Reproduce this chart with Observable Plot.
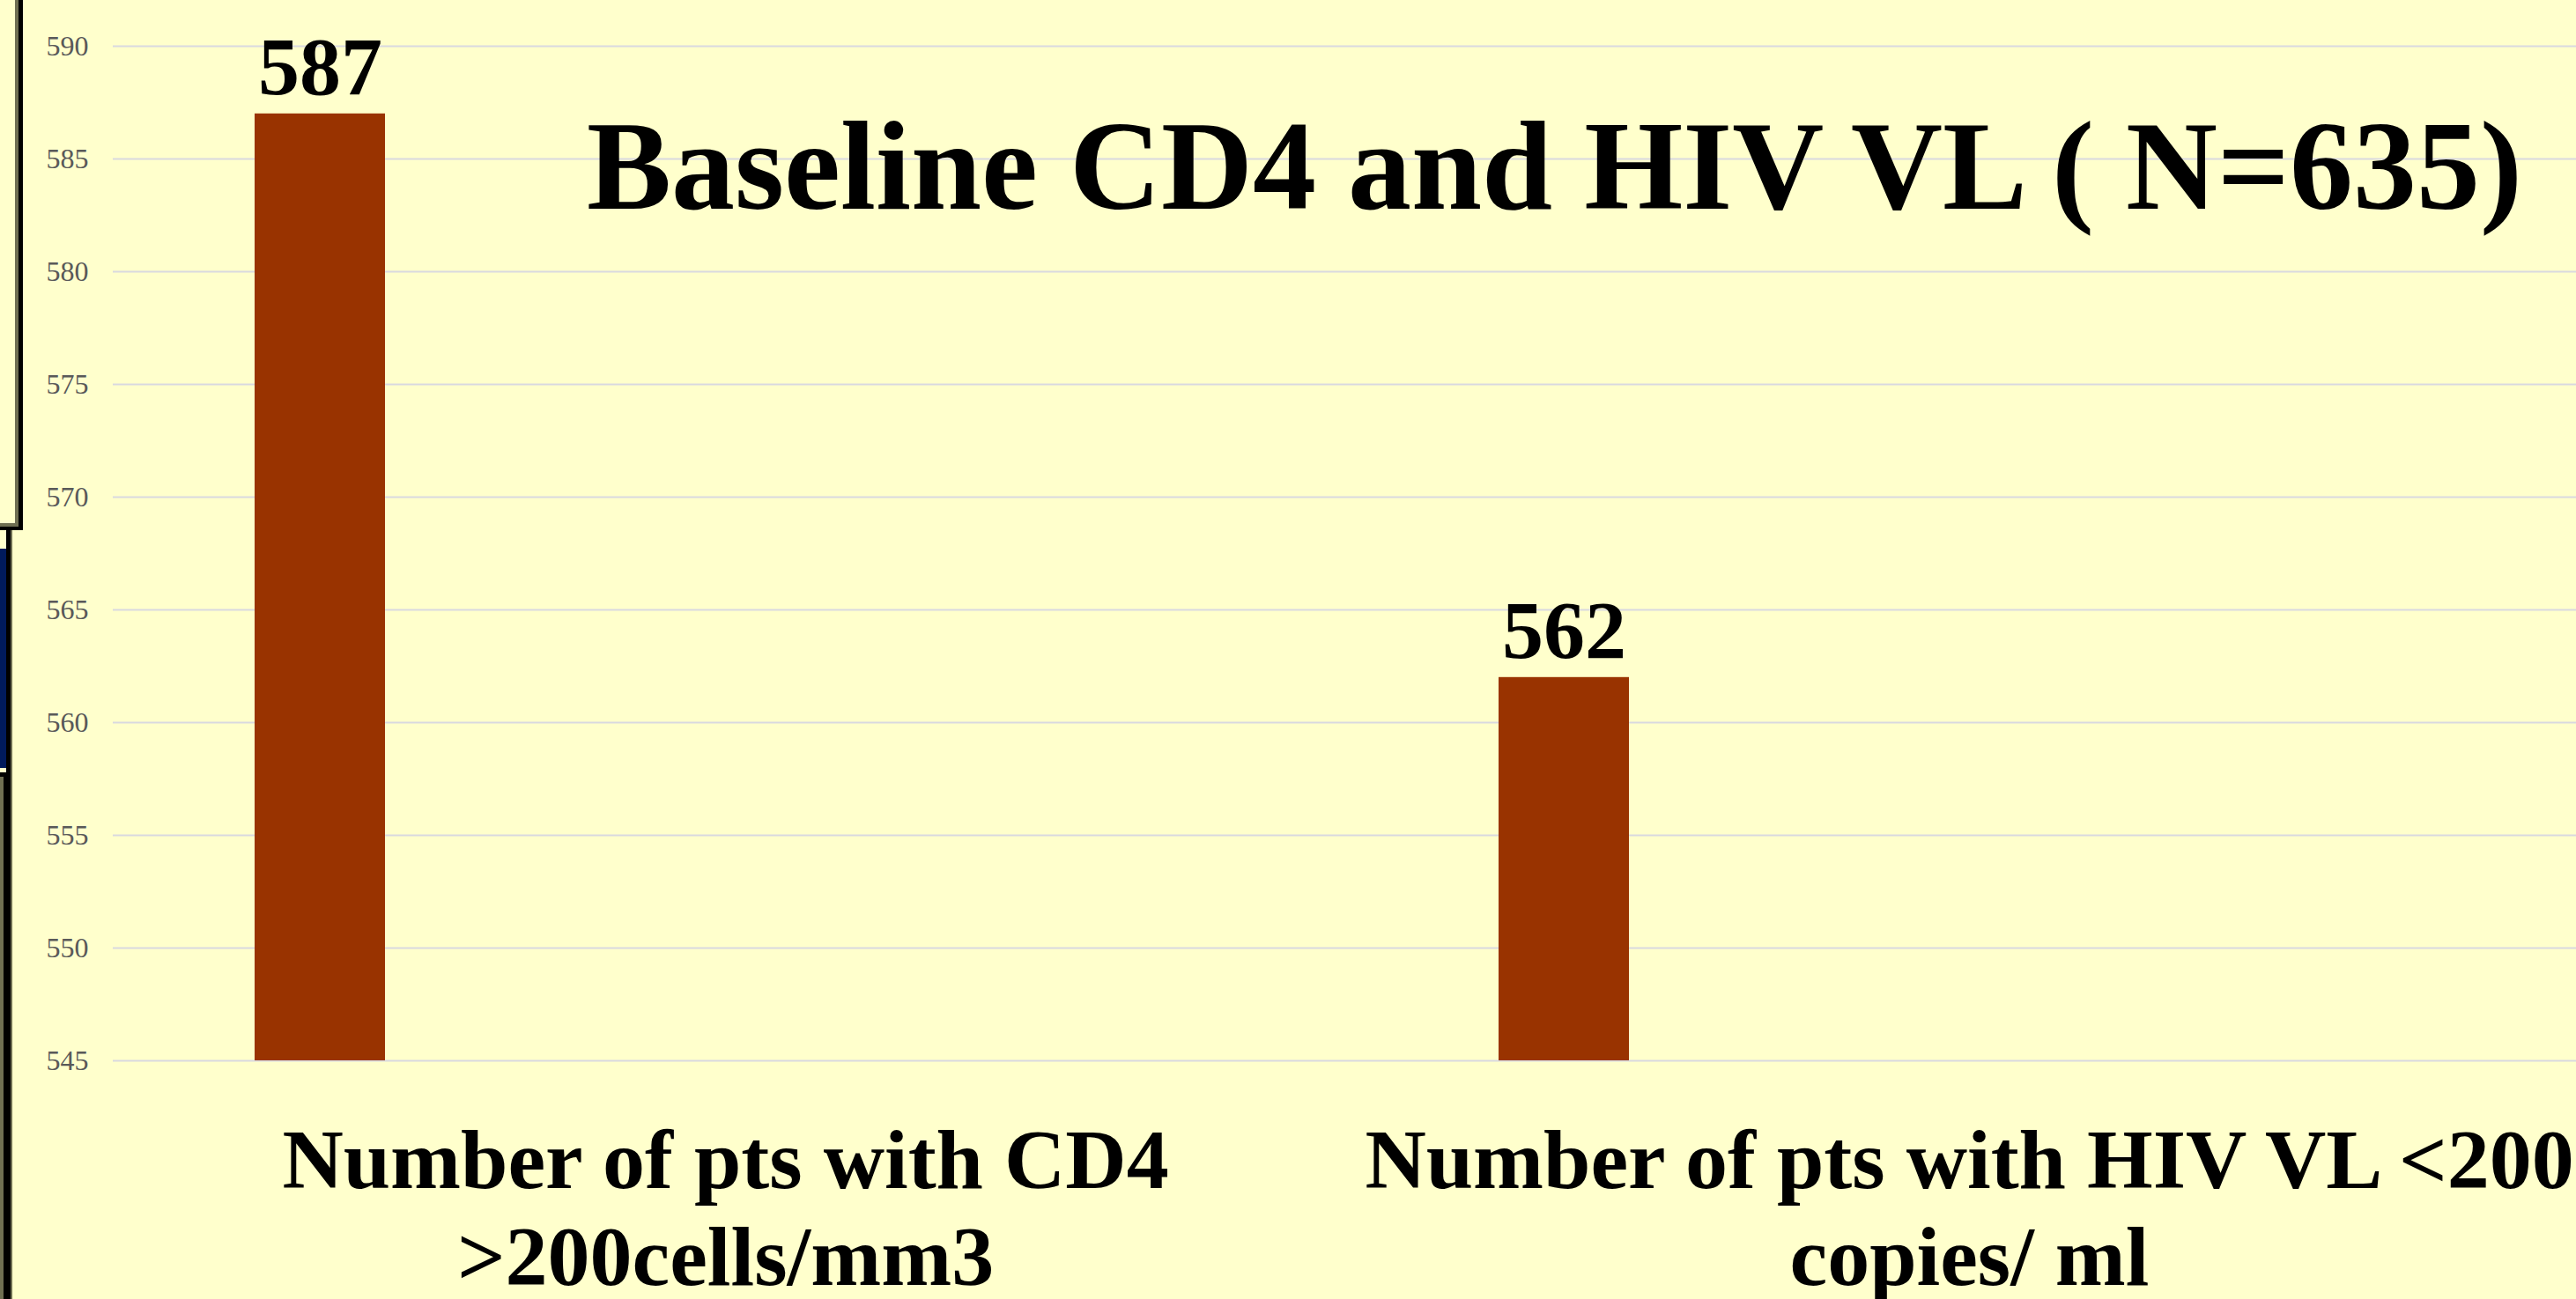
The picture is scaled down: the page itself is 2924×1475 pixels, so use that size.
<!DOCTYPE html>
<html>
<head>
<meta charset="utf-8">
<script src="https://cdn.jsdelivr.net/npm/d3@7"></script>
<script src="https://cdn.jsdelivr.net/npm/@observablehq/plot@0.6"></script>
<style>
  html, body { margin: 0; padding: 0; background: #FFFFCC; overflow: hidden; width: 2924px; height: 1475px; }
  #wrap { position: relative; width: 2924px; height: 1475px; overflow: hidden; }
  #chart { position: absolute; left: 0; top: 0; }
  #title { position: absolute; left: 666px; top: 117px; font-family: "Liberation Serif", "Times New Roman", serif; font-weight: bold; font-size: 144px; line-height: 1; white-space: nowrap; color: #000; }
  .d { position: absolute; }
</style>
</head>
<body>
<div id="wrap">
  <div id="chart"></div>
  <div id="title"></div>
  <!-- slide frame remnants at the left edge -->
  <div class="d" style="left:17px;top:0;width:4px;height:598px;background:#6f6f52"></div>
  <div class="d" style="left:21px;top:0;width:5px;height:602px;background:#000"></div>
  <div class="d" style="left:0;top:594px;width:21px;height:4px;background:#6f6f52"></div>
  <div class="d" style="left:0;top:598px;width:26px;height:4px;background:#000"></div>
  <div class="d" style="left:7px;top:602px;width:5px;height:275px;background:#000"></div>
  <div class="d" style="left:12px;top:602px;width:2px;height:873px;background:#6f6f52"></div>
  <div class="d" style="left:0;top:623px;width:7px;height:249px;background:#001a5c"></div>
  <div class="d" style="left:0;top:877px;width:12px;height:5px;background:#000"></div>
  <div class="d" style="left:4px;top:877px;width:8px;height:598px;background:#000"></div>
  <div class="d" style="left:0;top:882px;width:4px;height:593px;background:#6f6f52"></div>
</div>
<script>
// ---- data ----
const titleText = "Baseline CD4 and HIV VL ( N=635)";
const categories = [
  "Number of pts with CD4\n>200cells/mm3",
  "Number of pts with HIV VL <200\ncopies/ ml"
];
const values = [587, 562];
const seriesName = "Series1";
const yDomain = [545, 590];
const yTicks = [545, 550, 555, 560, 565, 570, 575, 580, 585, 590];

const data = categories.map((c, i) => ({category: c, value: values[i], series: seriesName}));

document.getElementById("title").textContent = titleText;

const chart = Plot.plot({
  width: 2924,
  height: 1475,
  marginTop: 52,
  marginBottom: 271,
  marginLeft: 128,
  marginRight: 0,
  style: {background: "transparent", fontFamily: "'Liberation Serif', 'Times New Roman', serif"},
  fx: {domain: categories, range: [128, 2952], padding: 0, axis: null},
  x: {domain: [seriesName], axis: null, paddingInner: 0.5, paddingOuter: 2.135, align: 0.127},
  y: {domain: yDomain, label: null},
  marks: [
    Plot.ruleY(yTicks, {stroke: "#D9D9DF", strokeWidth: 2}),
    Plot.axisY(yTicks, {tickSize: 0, tickPadding: 28, fontSize: 32, fill: "#595959", label: null, tickFormat: d => String(d)}),
    Plot.barY(data, {fx: "category", x: "series", y1: yDomain[0], y2: "value", fill: "#993300"}),
    Plot.text(data, {fx: "category", x: "series", y: "value", text: d => String(d.value),
      lineAnchor: "bottom", dy: -22, fontSize: 94, fontWeight: "bold", fill: "#000"}),
    Plot.text(data, {fx: "category", text: "category", frameAnchor: "bottom", lineAnchor: "top",
      dx: -11, dy: 66, fontSize: 96, fontWeight: "bold", lineHeight: 1.146, fill: "#000"})
  ]
});
document.getElementById("chart").appendChild(chart);
</script>
</body>
</html>
